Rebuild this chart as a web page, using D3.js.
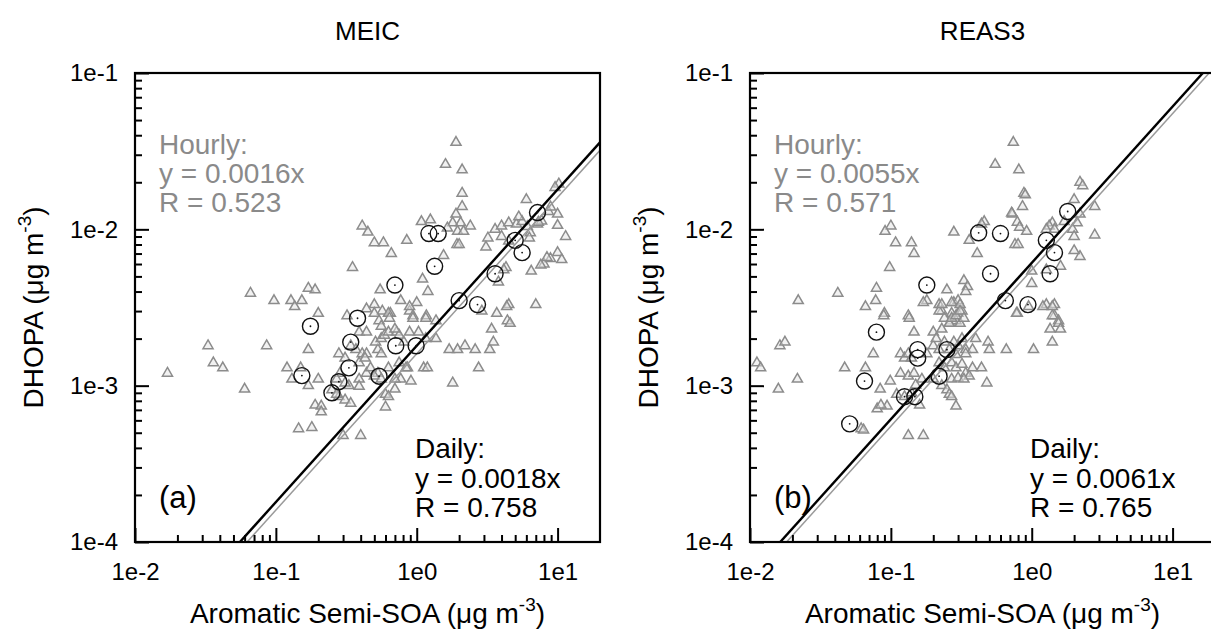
<!DOCTYPE html>
<html>
<head>
<meta charset="utf-8">
<script src="https://cdn.jsdelivr.net/npm/d3@7"></script>
<style>
  body { margin: 0; background: #fff; }
  text { font-family: "Liberation Sans", Arial, sans-serif; }
</style>
</head>
<body>
<script>
// DHOPA vs aromatic semi-SOA, hourly (triangles) and daily (circles)

var titles = ["MEIC", "REAS3"];
var tags = ["(a)", "(b)"];
var hourlySlope = [0.0016, 0.0055];
var hourlyR = ["0.523", "0.571"];
var dailySlope = [0.0018, 0.0061];
var dailyR = ["0.758", "0.765"];

var xTicks = [1e-2, 1e-1, 1e0, 1e1];
var yTicks = [1e-4, 1e-3, 1e-2, 1e-1];

var meicHourly = [
  [1.9,0.036],[1.6,0.026],[2.1,0.024],[2.1,0.017],[2.1,0.014],[1.9,0.0125],[6.0,0.0155],[10.2,0.0195],
  [0.41,0.0105],[0.45,0.0096],[1.08,0.0112],[1.25,0.0115],[1.8,0.011],[2.05,0.011],[2.4,0.0105],[1.65,0.0102],
  [1.95,0.0097],[2.15,0.0097],[0.5,0.0082],[0.58,0.0082],[0.85,0.0085],[0.66,0.007],[1.93,0.008],[2.0,0.008],
  [1.55,0.0068],[0.35,0.0057],[1.1,0.0048],[1.2,0.004],[0.55,0.0041],[1.0,0.0034],[0.77,0.0035],[0.5,0.0033],
  [0.44,0.0031],[0.17,0.0042],[0.19,0.0041],[0.066,0.0039],[0.097,0.0035],[0.128,0.0035],[0.153,0.0035],[0.136,0.0032],
  [0.2,0.0029],[0.32,0.0028],[0.57,0.003],[0.65,0.0029],[0.89,0.003],[0.94,0.0028],[1.17,0.0028],[3.2,0.0088],
  [3.6,0.01],[4.0,0.0105],[4.5,0.011],[5.1,0.0108],[5.6,0.0112],[6.1,0.0104],[6.4,0.0095],[7.2,0.0108],
  [7.7,0.0113],[8.6,0.013],[10,0.0125],[4.0,0.009],[4.5,0.0084],[6.3,0.0088],[10,0.0106],[3.1,0.0077],
  [4.3,0.0057],[3.8,0.0046],[6.5,0.0054],[8.0,0.006],[8.9,0.0065],[10,0.0071],[2.9,0.003],[3.7,0.0029],
  [4.5,0.0033],[7.0,0.0033],[4.4,0.0026],[4.6,0.0025],[8.9,0.0139],[11.4,0.009],[7.3,0.0111],[5.3,0.012],
  [8.4,0.0066],[7.6,0.0059],[10.7,0.0064],[4.15,0.0055],[4.35,0.0032],[9.6,0.0185],
  [0.033,0.0018],[0.086,0.0018],[0.017,0.0012],[0.036,0.0014],[0.042,0.0013],[0.06,0.00095],[0.17,0.0017],[0.12,0.0013],
  [0.13,0.0011],[0.15,0.0013],[0.17,0.001],[0.2,0.0011],[0.19,0.00075],[0.21,0.00074],[0.21,0.00068],[0.145,0.00053],
  [0.18,0.00054],[0.3,0.00048],[0.4,0.00048],[0.6,0.00073],[0.6,0.00088],[0.63,0.00085],[0.7,0.00095],
  [0.28,0.0016],[0.31,0.0015],[0.34,0.0018],[0.37,0.0017],[0.41,0.0016],[0.44,0.0016],[0.53,0.0017],[0.56,0.0016],
  [0.51,0.0019],[0.56,0.002],[0.59,0.0021],[0.63,0.0022],[0.72,0.0022],[0.75,0.0021],[0.81,0.0019],[0.89,0.0022],
  [1.03,0.0022],[1.16,0.002],[1.37,0.002],[1.7,0.0017],[1.95,0.0017],[2.2,0.0018],[2.6,0.0017],[3.3,0.0017],
  [3.5,0.0019],[3.4,0.0023],[2.75,0.0013],[1.8,0.00104],[0.86,0.0013],[1.12,0.0013],[1.19,0.0013],[0.91,0.00107],
  [0.77,0.0011],[0.63,0.0013],[0.53,0.0012],[0.44,0.0012],[0.39,0.0011],[0.33,0.001],[0.31,0.00104],[0.285,0.0012],
  [0.27,0.0011],[0.25,0.00094],[0.39,0.00099],[0.5,0.00115],[0.56,0.0011],[0.7,0.0011],[0.75,0.0014],[0.84,0.0013],
  [0.39,0.0014],[0.47,0.0013],[0.28,0.00085],[0.31,0.00081],[0.27,0.00088],[0.34,0.00077],[0.43,0.0015],[0.54,0.0026],
  [0.63,0.0029],[0.64,0.0027],[0.94,0.0027],[1.16,0.0027],[1.37,0.0026],[0.39,0.0022],[0.44,0.0022],[0.5,0.0029],
  [0.56,0.0024],[0.7,0.0023],[0.89,0.0032]
];

var meicDaily = [
  [1.22,0.0094],[1.42,0.0094],[1.34,0.0058],[0.7,0.0044],[5.0,0.0085],[5.6,0.0071],[7.2,0.0128],[3.6,0.0052],
  [2.0,0.0035],[2.7,0.0033],[0.176,0.0024],[0.38,0.0027],[0.34,0.0019],[0.71,0.0018],[0.99,0.0018],[0.33,0.0013],
  [0.153,0.00116],[0.28,0.00106],[0.25,0.0009],[0.54,0.00115]
];

var reasHourly = [
  [0.74,0.036],[0.55,0.026],[0.81,0.024],[2.2,0.02],[2.3,0.019],[0.88,0.017],[0.86,0.014],[0.73,0.0125],
  [2.0,0.0155],[2.8,0.014],[2.2,0.0125],[2.1,0.011],[1.95,0.01],[1.7,0.0112],[1.4,0.011],[1.33,0.0105],
  [1.27,0.01],[1.45,0.01],[2.8,0.0092],[2.0,0.009],[2.2,0.0067],[2.0,0.0073],[1.6,0.0058],[1.27,0.0055],
  [1.0,0.0054],[1.0,0.0045],[0.79,0.0111],[0.82,0.0103],[0.92,0.0097],[0.76,0.008],[0.8,0.008],[0.46,0.0112],
  [0.44,0.0108],[0.36,0.0085],[0.28,0.0096],[0.41,0.007],[1.27,0.0033],[1.45,0.0033],[1.45,0.0028],[0.79,0.0029],
  [1.55,0.0026],[0.33,0.0047],[0.35,0.0043],[0.34,0.004],[0.25,0.0041],[0.28,0.0034],[0.9,0.0166],[0.72,0.0127],
  [0.3,0.0035],[0.18,0.0035],[0.22,0.0033],[0.23,0.003],[0.27,0.0029],[0.3,0.0029],[0.32,0.003],[0.24,0.0027],
  [0.27,0.0026],[0.29,0.0026],[0.31,0.0025],[0.26,0.0025],
  [0.1,0.0105],[0.091,0.0097],[0.108,0.0082],[0.14,0.0082],[0.146,0.007],[0.098,0.0057],[0.079,0.0042],[0.078,0.0035],
  [0.066,0.0032],[0.09,0.0029],[0.133,0.0028],[0.042,0.0039],[0.022,0.0035],
  [0.0163,0.0018],[0.0177,0.0019],[0.0112,0.0014],[0.0119,0.0013],[0.0217,0.0011],[0.0159,0.00095],[0.047,0.0013],[0.0615,0.00053],
  [0.064,0.00052],[0.089,0.0028],[0.135,0.0027],[0.075,0.0016],[0.066,0.0013],[0.084,0.00095],[0.099,0.00107],[0.08,0.00071],
  [0.094,0.00074],[0.085,0.00075],[0.133,0.00048],[0.17,0.00048],[0.146,0.0022],[0.17,0.0034],[0.2,0.0022],[0.22,0.003],
  [0.23,0.0033],[0.27,0.0034],[0.31,0.0033],[0.117,0.0016],[0.125,0.0015],[0.133,0.0016],[0.14,0.0015],[0.117,0.0012],
  [0.133,0.00115],[0.146,0.0012],[0.166,0.0011],[0.15,0.00101],[0.11,0.00088],[0.125,0.00085],[0.14,0.0009],[0.16,0.00075],
  [0.18,0.0016],[0.2,0.0018],[0.21,0.002],[0.23,0.0023],[0.26,0.0025],[0.27,0.0027],[0.29,0.0028],[0.31,0.003],
  [0.33,0.0027],[0.22,0.0014],[0.24,0.0013],[0.27,0.0014],[0.29,0.0013],[0.32,0.00137],[0.34,0.0012],[0.36,0.00115],
  [0.38,0.0013],[0.44,0.0013],[0.23,0.001],[0.25,0.00094],[0.26,0.00088],[0.27,0.00085],[0.29,0.00074],[0.2,0.0011],
  [0.27,0.0011],[0.3,0.00112],[0.33,0.0011],[0.4,0.002],[0.49,0.0019],[0.5,0.0017],[0.66,0.0017],[1.03,0.0017],
  [0.48,0.00104],[0.78,0.0029],[0.95,0.0032],[1.2,0.0032],[1.4,0.0032],[1.4,0.0028],[1.55,0.0025],[1.6,0.0023],
  [1.35,0.0023],[1.4,0.0019],[0.26,0.0017],[0.3,0.0018],[0.34,0.0017],[0.38,0.0017],[0.34,0.0016],[0.29,0.00158],
  [0.32,0.002],[0.28,0.0019],[0.24,0.0019],[0.22,0.0017]
];

var reasDaily = [
  [0.42,0.0095],[0.6,0.0094],[0.51,0.0052],[0.18,0.0044],[1.27,0.0085],[1.45,0.0071],[1.8,0.013],[1.35,0.0052],
  [0.65,0.0035],[0.94,0.0033],[0.079,0.0022],[0.155,0.0017],[0.155,0.0015],[0.25,0.0017],[0.065,0.00107],[0.22,0.00115],
  [0.125,0.00085],[0.148,0.00085],[0.051,0.00057]
];

var hourlySets = [meicHourly, reasHourly];
var dailySets = [meicDaily, reasDaily];

var W = 1211, H = 635;
var frameLeft = [135, 750];
var frameW = 465;
var yTop = 73, yBottom = 542;
var grey = "#8c8c8c";

var svg = d3.select("body").append("svg")
  .attr("width", W)
  .attr("height", H);

svg.append("rect").attr("width", W).attr("height", H).attr("fill", "#fff");

function minorTicks(lo, hi) {
  var out = [];
  for (var e = Math.floor(Math.log10(lo)); e <= Math.ceil(Math.log10(hi)); e++) {
    for (var m = 2; m <= 9; m++) {
      var v = m * Math.pow(10, e);
      if (v > lo && v < hi) out.push(v);
    }
  }
  return out;
}

var fmt = function (d) { return "1e" + Math.round(Math.log10(d)); };

for (var p = 0; p < 2; p++) {
  var x0 = frameLeft[p];
  var x = d3.scaleLog().domain([0.01, 20]).range([x0, x0 + frameW]);
  var y = d3.scaleLog().domain([1e-4, 0.1]).range([yBottom, yTop]);

  var g = svg.append("g");

  g.append("clipPath").attr("id", "clip" + p)
    .append("rect")
    .attr("x", x0).attr("y", yTop)
    .attr("width", frameW).attr("height", yBottom - yTop);

  var plot = g.append("g").attr("clip-path", "url(#clip" + p + ")");

  // hourly points
  plot.selectAll("path.tri")
    .data(hourlySets[p])
    .enter()
    .append("path")
    .attr("class", "tri")
    .attr("d", d3.symbol(d3.symbolTriangle, 44))
    .attr("transform", function (d) { return "translate(" + x(d[0]) + "," + y(d[1]) + ")"; })
    .attr("fill", "#e4e4e4")
    .attr("fill-opacity", 0.5)
    .attr("stroke", grey)
    .attr("stroke-width", 1.5);

  // fit lines
  var line = d3.line()
    .x(function (d) { return x(d[0]); })
    .y(function (d) { return y(d[1]); });
  var ends = x.domain();

  plot.append("path")
    .attr("d", line(ends.map(function (v) { return [v, v * hourlySlope[p]]; })))
    .attr("fill", "none")
    .attr("stroke", "#9a9a9a")
    .attr("stroke-width", 1.5);

  plot.append("path")
    .attr("d", line(ends.map(function (v) { return [v, v * dailySlope[p]]; })))
    .attr("fill", "none")
    .attr("stroke", "#000")
    .attr("stroke-width", 2.4);

  // daily points
  var dots = plot.selectAll("g.day")
    .data(dailySets[p])
    .enter()
    .append("g")
    .attr("class", "day")
    .attr("transform", function (d) { return "translate(" + x(d[0]) + "," + y(d[1]) + ")"; });
  dots.append("circle").attr("r", 8).attr("fill", "none").attr("stroke", "#111").attr("stroke-width", 1.4);
  dots.append("circle").attr("r", 0.9).attr("fill", "#111");

  // axes
  g.append("g")
    .attr("transform", "translate(0," + yBottom + ")")
    .call(d3.axisBottom(x).tickValues(xTicks).tickFormat(fmt).tickSizeInner(-14).tickSizeOuter(0).tickPadding(21));
  g.append("g")
    .attr("transform", "translate(0," + yBottom + ")")
    .call(d3.axisBottom(x).tickValues(minorTicks(0.01, 20)).tickFormat("").tickSizeInner(-7).tickSizeOuter(0));

  g.append("g")
    .attr("transform", "translate(" + x0 + ",0)")
    .call(d3.axisLeft(y).tickValues(yTicks).tickFormat(fmt).tickSizeInner(-14).tickSizeOuter(0).tickPadding(17));
  g.append("g")
    .attr("transform", "translate(" + x0 + ",0)")
    .call(d3.axisLeft(y).tickValues(minorTicks(1e-4, 0.1)).tickFormat("").tickSizeInner(-7).tickSizeOuter(0));

  g.selectAll(".domain").remove();
  g.selectAll(".tick line").attr("stroke", "#000").attr("stroke-width", 2);
  g.selectAll(".tick text").attr("font-size", 24).attr("fill", "#000")
    .style("font-family", "'Liberation Sans', Arial, sans-serif");

  g.append("rect")
    .attr("x", x0).attr("y", yTop)
    .attr("width", frameW).attr("height", yBottom - yTop)
    .attr("fill", "none").attr("stroke", "#000").attr("stroke-width", 2.2);

  // titles and labels
  g.append("text")
    .attr("x", x0 + frameW / 2).attr("y", 40)
    .attr("text-anchor", "middle").attr("font-size", 26)
    .text(titles[p]);

  var xl = g.append("text")
    .attr("x", x0 + frameW / 2).attr("y", 623)
    .attr("text-anchor", "middle").attr("font-size", 28);
  xl.append("tspan").text("Aromatic Semi-SOA (\u03bcg m");
  xl.append("tspan").attr("font-size", 19).attr("dy", -12).text("-3");
  xl.append("tspan").attr("dy", 12).text(")");

  var yl = g.append("text")
    .attr("transform", "translate(" + (x0 - 92) + "," + ((yTop + yBottom) / 2) + ") rotate(-90)")
    .attr("text-anchor", "middle").attr("font-size", 28);
  yl.append("tspan").text("DHOPA (\u03bcg m");
  yl.append("tspan").attr("font-size", 19).attr("dy", -12).text("-3");
  yl.append("tspan").attr("dy", 12).text(")");

  // annotations
  var hourlyLines = ["Hourly:", "y = " + hourlySlope[p] + "x", "R = " + hourlyR[p]];
  g.selectAll("text.hr")
    .data(hourlyLines)
    .enter()
    .append("text")
    .attr("class", "hr")
    .attr("x", x0 + 24)
    .attr("y", function (d, i) { return 154 + i * 29; })
    .attr("font-size", 28)
    .attr("fill", "#8a8a8a")
    .text(function (d) { return d; });

  var dailyLines = ["Daily:", "y = " + dailySlope[p] + "x", "R = " + dailyR[p]];
  g.selectAll("text.dy")
    .data(dailyLines)
    .enter()
    .append("text")
    .attr("class", "dy")
    .attr("x", x0 + 280)
    .attr("y", function (d, i) { return 458 + i * 29.5; })
    .attr("font-size", 28)
    .attr("fill", "#000")
    .text(function (d) { return d; });

  g.append("text")
    .attr("x", x0 + 24).attr("y", 508)
    .attr("font-size", 31)
    .text(tags[p]);
}
</script>
</body>
</html>
